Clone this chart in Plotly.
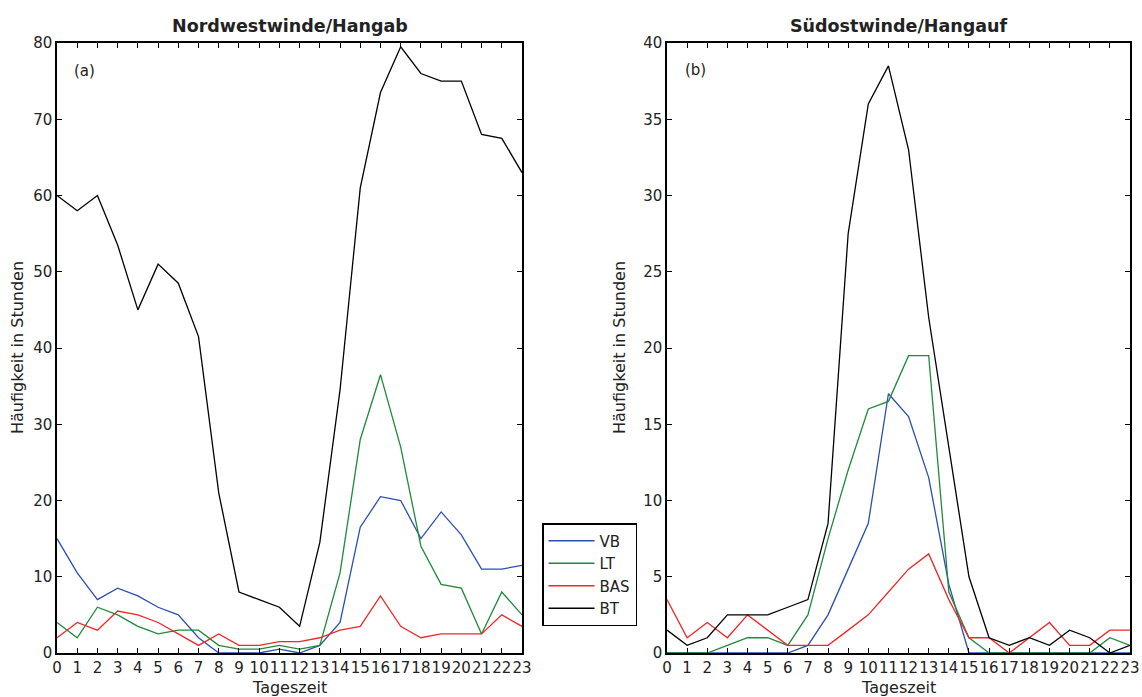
import plotly.graph_objects as go

hours = list(range(24))
hour_labels = [str(h) for h in hours]

# Panel (a): Nordwestwinde/Hangab
nw_vb = [15, 10.5, 7, 8.5, 7.5, 6, 5, 2, 0, 0, 0, 0.5, 0, 1, 4, 16.5, 20.5, 20, 15, 18.5, 15.5, 11, 11, 11.5]
nw_lt = [4, 2, 6, 5, 3.5, 2.5, 3, 3, 1, 0.5, 0.5, 1, 0.5, 1, 10.5, 28, 36.5, 27, 14, 9, 8.5, 2.5, 8, 5]
nw_bas = [2, 4, 3, 5.5, 5, 4, 2.5, 1, 2.5, 1, 1, 1.5, 1.5, 2, 3, 3.5, 7.5, 3.5, 2, 2.5, 2.5, 2.5, 5, 3.5]
nw_bt = [60, 58, 60, 53.5, 45, 51, 48.5, 41.5, 21, 8, 7, 6, 3.5, 14.5, 34.5, 61, 73.5, 79.5, 76, 75, 75, 68, 67.5, 63]

# Panel (b): Südostwinde/Hangauf
so_vb = [0, 0, 0, 0, 0, 0, 0, 0.5, 2.5, 5.5, 8.5, 17, 15.5, 11.5, 4.5, 0, 0, 0, 0, 0, 0, 0, 0, 0]
so_lt = [0, 0, 0, 0.5, 1, 1, 0.5, 2.5, 7.5, 12, 16, 16.5, 19.5, 19.5, 4, 1, 0, 0, 0, 0, 0, 0, 1, 0.5]
so_bas = [3.5, 1, 2, 1, 2.5, 1.5, 0.5, 0.5, 0.5, 1.5, 2.5, 4, 5.5, 6.5, 3.5, 1, 1, 0, 1, 2, 0.5, 0.5, 1.5, 1.5]
so_bt = [1.5, 0.5, 1, 2.5, 2.5, 2.5, 3, 3.5, 8.5, 27.5, 36, 38.5, 33, 22, 13.5, 5, 1, 0.5, 1, 0.5, 1.5, 1, 0, 0.5]

series_names = ["VB", "LT", "BAS", "BT"]
colors = ["#2b4fb0", "#1f8a3c", "#f02828", "#000000"]

FONT = "DejaVu Sans"

fig = go.Figure()
for name, col, ya in zip(series_names, colors, [nw_vb, nw_lt, nw_bas, nw_bt]):
    fig.add_trace(go.Scatter(x=hours, y=ya, mode="lines", name=name,
                             line=dict(color=col, width=1.3),
                             xaxis="x", yaxis="y", showlegend=True))
for name, col, ya in zip(series_names, colors, [so_vb, so_lt, so_bas, so_bt]):
    fig.add_trace(go.Scatter(x=hours, y=ya, mode="lines", name=name,
                             line=dict(color=col, width=1.3),
                             xaxis="x2", yaxis="y2", showlegend=False))

W, H = 1142, 697
ml, mr, mt, mb = 57, 12, 43, 44
pw = W - ml - mr
ph = H - mt - mb
left_dom = [0, (522 - ml) / pw]
right_dom = [(667 - ml) / pw, 1]

axis_common = dict(showline=True, linecolor="black", linewidth=1.5, mirror="ticks",
                   ticks="inside", ticklen=5, tickcolor="black", tickwidth=1,
                   showgrid=False, zeroline=False,
                   tickfont=dict(family=FONT, size=15, color="#222222"))

fig.update_layout(
    width=W, height=H,
    margin=dict(l=ml, r=mr, t=mt, b=mb, autoexpand=False),
    plot_bgcolor="white", paper_bgcolor="white",
    font=dict(family=FONT, size=14, color="#222222"),
    xaxis=dict(domain=left_dom, range=[0, 23], tickmode="array", tickvals=hours,
               ticktext=hour_labels, tickangle=0, anchor="y", **axis_common),
    yaxis=dict(domain=[0, 1], range=[0, 80], dtick=10, anchor="x", **axis_common),
    xaxis2=dict(domain=right_dom, range=[0, 23], tickmode="array", tickvals=hours,
                ticktext=hour_labels, tickangle=0, anchor="y2", **axis_common),
    yaxis2=dict(domain=[0, 1], range=[0, 40], dtick=5, anchor="x2", **axis_common),
    legend=dict(x=(542 - ml) / pw, y=(653 - 523) / ph, xanchor="left", yanchor="top",
                bordercolor="black", borderwidth=1.5, bgcolor="white",
                font=dict(family=FONT, size=15, color="#222222"),
                tracegroupgap=0, itemwidth=46),
    showlegend=True,
)

ann = [
    dict(text="<b>Nordwestwinde/Hangab</b>", x=(left_dom[0] + left_dom[1]) / 2, y=1, xref="paper", yref="paper",
         xanchor="center", yanchor="bottom", yshift=5, showarrow=False, font=dict(family=FONT, size=17.5)),
    dict(text="<b>Südostwinde/Hangauf</b>", x=(right_dom[0] + right_dom[1]) / 2, y=1, xref="paper", yref="paper",
         xanchor="center", yanchor="bottom", yshift=5, showarrow=False, font=dict(family=FONT, size=17.5)),
    dict(text="Tageszeit", x=(left_dom[0] + left_dom[1]) / 2, y=0, xref="paper", yref="paper",
         xanchor="center", yanchor="top", yshift=-23, showarrow=False, font=dict(family=FONT, size=16)),
    dict(text="Tageszeit", x=(right_dom[0] + right_dom[1]) / 2, y=0, xref="paper", yref="paper",
         xanchor="center", yanchor="top", yshift=-23, showarrow=False, font=dict(family=FONT, size=16)),
    dict(text="Häufigkeit in Stunden", x=left_dom[0], y=0.5, xref="paper", yref="paper",
         xanchor="center", xshift=-40, textangle=-90, showarrow=False, font=dict(family=FONT, size=16)),
    dict(text="Häufigkeit in Stunden", x=right_dom[0], y=0.5, xref="paper", yref="paper",
         xanchor="center", xshift=-48, textangle=-90, showarrow=False, font=dict(family=FONT, size=16)),
    dict(text="(a)", x=1.34, y=76.3, xref="x", yref="y", showarrow=False, font=dict(family=FONT, size=15)),
    dict(text="(b)", x=1.44, y=38.2, xref="x2", yref="y2", showarrow=False, font=dict(family=FONT, size=15)),
]
fig.update_layout(annotations=ann)

fig.write_html("out.html")
